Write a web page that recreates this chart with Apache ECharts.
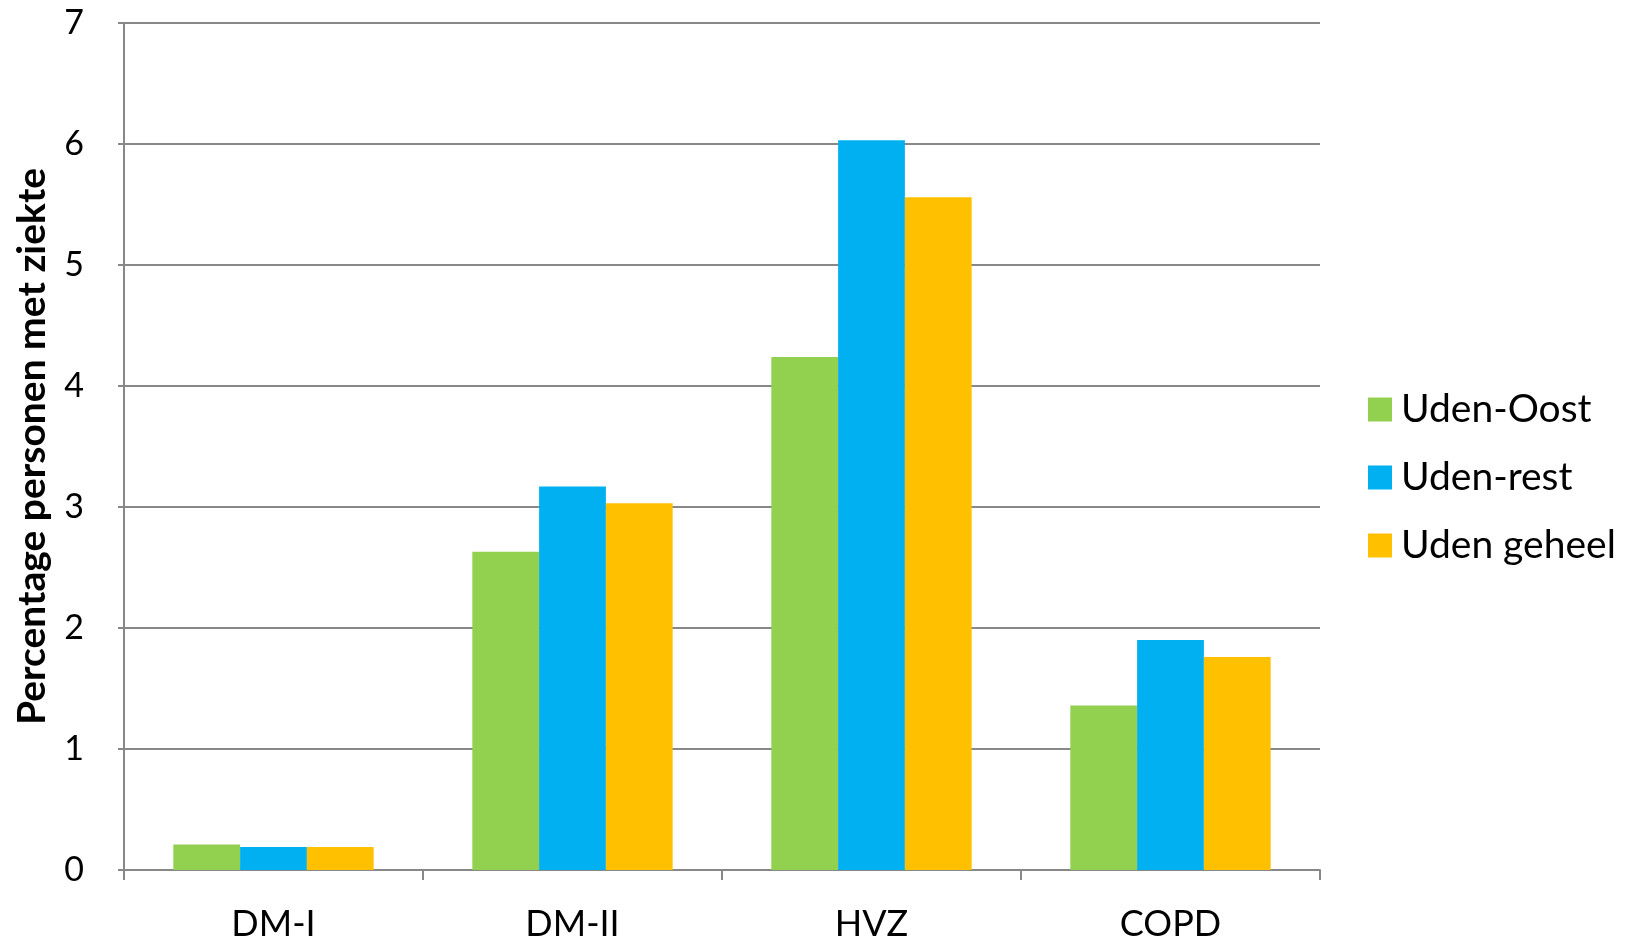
<!DOCTYPE html>
<html>
<head>
<meta charset="utf-8">
<script src="https://cdn.jsdelivr.net/npm/echarts@6/dist/echarts.min.js"></script>
<style>
  html, body { margin: 0; padding: 0; background: #fff; }
  #chart { width: 1636px; height: 947px; }
</style>
</head>
<body>
<div id="chart"></div>
<script>
// categorieen en waarden (percentage personen met ziekte)
var categories = ['DM-I', 'DM-II', 'HVZ', 'COPD'];
var udenOost = [0.21, 2.63, 4.24, 1.36];
var udenRest = [0.19, 3.17, 6.03, 1.90];
var udenGeheel = [0.19, 3.03, 5.56, 1.76];
var yTicks = [0, 1, 2, 3, 4, 5, 6, 7];

var fontFam = 'Lato, "Liberation Sans", sans-serif';
var myChart = echarts.init(document.getElementById('chart'));

var option = {
  animation: false,
  textStyle: { fontFamily: fontFam },
  grid: { left: 124, right: 316, top: 23, bottom: 77 },
  legend: {
    orient: 'vertical',
    left: 1363,
    top: 385,
    itemWidth: 24,
    itemHeight: 24,
    itemGap: 29,
    icon: 'rect',
    textStyle: { fontSize: 39, color: '#000', fontFamily: fontFam, padding: [0, 0, 0, 4] },
    data: ['Uden-Oost', 'Uden-rest', 'Uden geheel']
  },
  xAxis: {
    type: 'category',
    data: categories,
    axisLine: { lineStyle: { color: '#888', width: 2 } },
    axisTick: { show: true, length: 10, lineStyle: { color: '#888', width: 2 } },
    axisLabel: { fontSize: 36, color: '#000', margin: 36 }
  },
  yAxis: {
    type: 'value',
    min: yTicks[0],
    max: yTicks[yTicks.length - 1],
    interval: 1,
    name: 'Percentage personen met ziekte',
    nameLocation: 'middle',
    nameGap: 72,
    nameTextStyle: { fontSize: 39, fontWeight: 'bold', color: '#000', fontFamily: '"Liberation Sans Narrow", ' + fontFam },
    axisLine: { show: true, lineStyle: { color: '#888', width: 2 } },
    axisTick: { show: true, length: 6, lineStyle: { color: '#888', width: 2 } },
    axisLabel: { fontSize: 34, color: '#000', margin: 50, align: 'center' },
    splitLine: { lineStyle: { color: '#888', width: 2 } }
  },
  series: [
    { name: 'Uden-Oost', type: 'bar', data: udenOost, itemStyle: { color: '#92D050' }, barGap: '0%', barCategoryGap: '33%' },
    { name: 'Uden-rest', type: 'bar', data: udenRest, itemStyle: { color: '#00B0F0' } },
    { name: 'Uden geheel', type: 'bar', data: udenGeheel, itemStyle: { color: '#FFC000' } }
  ]
};

myChart.setOption(option);
window.addEventListener('resize', function () {
  myChart.resize();
});
</script>
</body>
</html>
